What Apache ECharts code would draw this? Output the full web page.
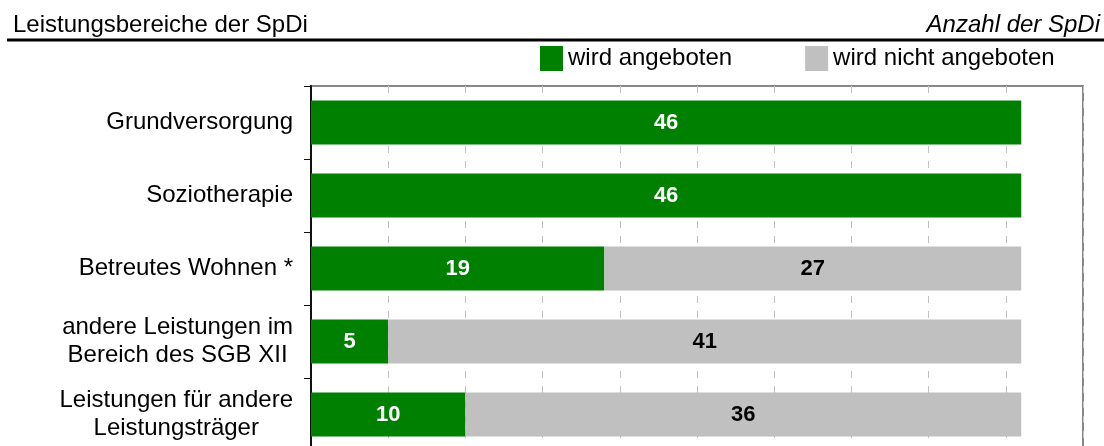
<!DOCTYPE html>
<html>
<head>
<meta charset="utf-8">
<script src="https://cdn.jsdelivr.net/npm/echarts@6/dist/echarts.min.js"></script>
<style>
html,body{margin:0;padding:0;background:#fff;}
#chart{width:1104px;height:446px;}
</style>
</head>
<body>
<div id="chart"></div>
<script>
//Daten
var categories = ['Grundversorgung', 'Soziotherapie', 'Betreutes Wohnen *', 'andere Leistungen im\nBereich des SGB XII', 'Leistungen für andere\nLeistungsträger'];
var angeboten = [46, 46, 19, 5, 10];
var nichtAngeboten = [0, 0, 27, 41, 36];
var seriesNames = ['wird angeboten', 'wird nicht angeboten'];
var fontName = '"Liberation Sans", Arial, sans-serif';

var myChart = echarts.init(document.getElementById('chart'));

//Werte 0 nicht beschriften
function labelFmt(p) {
    return p.value > 0 ? p.value : '';
}

var option = {
    animation: false,
    textStyle: {fontFamily: fontName},
    graphic: [
        {type: 'text', left: 13, top: 13, style: {text: 'Leistungsbereiche der SpDi', fontSize: 24, fontFamily: fontName, fill: '#000'}},
        {type: 'text', right: 4, top: 13, style: {text: 'Anzahl der SpDi', fontSize: 24, fontStyle: 'italic', fontFamily: fontName, fill: '#000'}},
        {type: 'line', shape: {x1: 7, y1: 40, x2: 1104, y2: 40}, style: {stroke: '#000', lineWidth: 3}}
    ],
    legend: {
        left: 540,
        top: 46,
        padding: 0,
        itemWidth: 23,
        itemHeight: 25,
        itemGap: 73,
        icon: 'rect',
        textStyle: {fontSize: 24, color: '#000', fontFamily: fontName},
        data: seriesNames
    },
    grid: {
        left: 311, right: 21, top: 86, height: 365,
        outerBoundsMode: 'none',
        show: true, borderColor: '#888', borderWidth: 2,
        containLabel: false
    },
    xAxis: {
        type: 'value',
        min: 0, max: 50, interval: 5,
        axisLabel: {show: false},
        axisTick: {show: false},
        axisLine: {show: false},
        splitLine: {show: true, lineStyle: {color: '#c0c0c0', width: 1, type: [7, 8]}}
    },
    yAxis: {
        type: 'category',
        inverse: true,
        data: categories,
        axisLine: {show: true, lineStyle: {color: '#111', width: 2}},
        axisTick: {show: true, length: 7, inside: false, lineStyle: {color: '#111', width: 1}},
        axisLabel: {
            margin: 18,
            align: 'right',
            color: '#000',
            fontSize: 24,
            formatter: function (v) {
                return v.split('\n').map(function (l) { return '{c|' + l + '}'; }).join('\n');
            },
            rich: {c: {align: 'center', fontSize: 24, lineHeight: 28, color: '#000', fontFamily: fontName}}
        }
    },
    series: [
        {
            name: seriesNames[0], type: 'bar', stack: 'a', barWidth: '60%',
            itemStyle: {color: '#008000'},
            label: {show: true, position: 'inside', color: '#fff', fontWeight: 'bold', fontSize: 22, fontFamily: fontName, formatter: labelFmt},
            data: angeboten
        },
        {
            name: seriesNames[1], type: 'bar', stack: 'a', barWidth: '60%',
            itemStyle: {color: '#c0c0c0'},
            label: {show: true, position: 'inside', color: '#000', fontWeight: 'bold', fontSize: 22, fontFamily: fontName, formatter: labelFmt},
            data: nichtAngeboten
        }
    ]
};

myChart.setOption(option);
</script>
</body>
</html>
